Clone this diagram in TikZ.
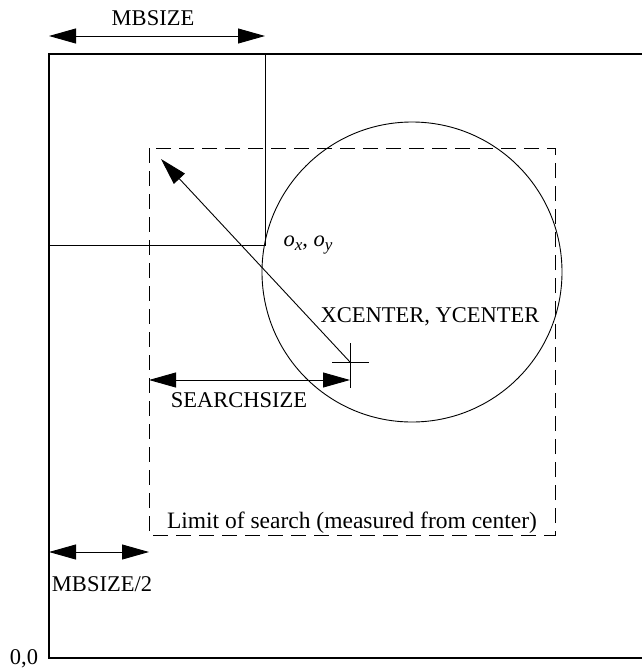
\documentclass[tikz,border=0pt]{standalone}
\usepackage{fontspec}
\setmainfont{Liberation Serif}
\usetikzlibrary{arrows.meta}
\newcommand{\subx}[1]{\raisebox{-0.4ex}{\fontsize{17}{20}\selectfont\itshape #1}}
\begin{document}
\begin{tikzpicture}[x=1pt,y=-1pt,
  lbl/.style={font=\fontsize{22.5}{27}\selectfont, inner sep=0pt},
  thinline/.style={line width=0.9pt},
  outerline/.style={line width=1.4pt},
  limitbox/.style={line width=0.9pt, dash pattern=on 15pt off 8pt},
  dimarrow/.style={thinline, {Triangle[length=27pt,width=15pt]}-{Triangle[length=27pt,width=15pt]}},
  onearrow/.style={thinline, -{Triangle[length=27pt,width=15pt]}}]
\useasboundingbox (0,0) rectangle (642,670);
% outer frame
\coordinate (otr) at (642,54);
\coordinate (otl) at (49,54);
\coordinate (obl) at (49,658);
\coordinate (obr) at (642,658);
\draw[outerline] (otr) -- (otl) -- (obl) -- (obr);
% MBSIZE box
\coordinate (mbl) at (49,245);
\coordinate (mbr) at (265,245);
\coordinate (mtr) at (265,54);
\draw[thinline] (mbl) -- (mbr) -- (mtr);
% limit of search
\coordinate (ltl) at (149,148);
\coordinate (lbr) at (555,535);
\draw[limitbox] (ltl) rectangle (lbr);
% circle
\coordinate (cc) at (412,272);
\draw[thinline] (cc) circle[radius=150];
% centre cross
\coordinate (c) at (350,362);
\coordinate (ch1) at (332,362);
\coordinate (ch2) at (369,362);
\coordinate (cv1) at (350,343);
\coordinate (cv2) at (350,388);
\draw[thinline] (ch1) -- (ch2);
\draw[thinline] (cv1) -- (cv2);
% radius arrow
\coordinate (tip) at (161,159);
\draw[onearrow] (c) -- (tip);
% MBSIZE dimension
\coordinate (m1) at (49,36);
\coordinate (m2) at (265,36);
\draw[dimarrow] (m1) -- (m2);
% SEARCHSIZE dimension
\coordinate (s1) at (149,380);
\coordinate (s2) at (350,380);
\draw[dimarrow] (s1) -- (s2);
% MBSIZE/2 dimension
\coordinate (h1) at (49,552);
\coordinate (h2) at (149,552);
\draw[dimarrow] (h1) -- (h2);
% labels
\node[lbl] (tmb) at (153,18) {MBSIZE};
\node[lbl] (tss) at (239,400) {SEARCHSIZE};
\node[lbl] (tmb2) at (102,584) {MBSIZE/2};
\node[lbl] (t00) at (24,659) {0,0};
\node[lbl, font=\fontsize{23.5}{28}\selectfont] (tlim) at (352,523) {Limit of search (measured from center)};
\node[lbl] (to) at (308,245) {\textit{o}\subx{x}, \textit{o}\subx{y}};
\node[lbl] (txy) at (430,317) {XCENTER, YCENTER};
\end{tikzpicture}
\end{document}
